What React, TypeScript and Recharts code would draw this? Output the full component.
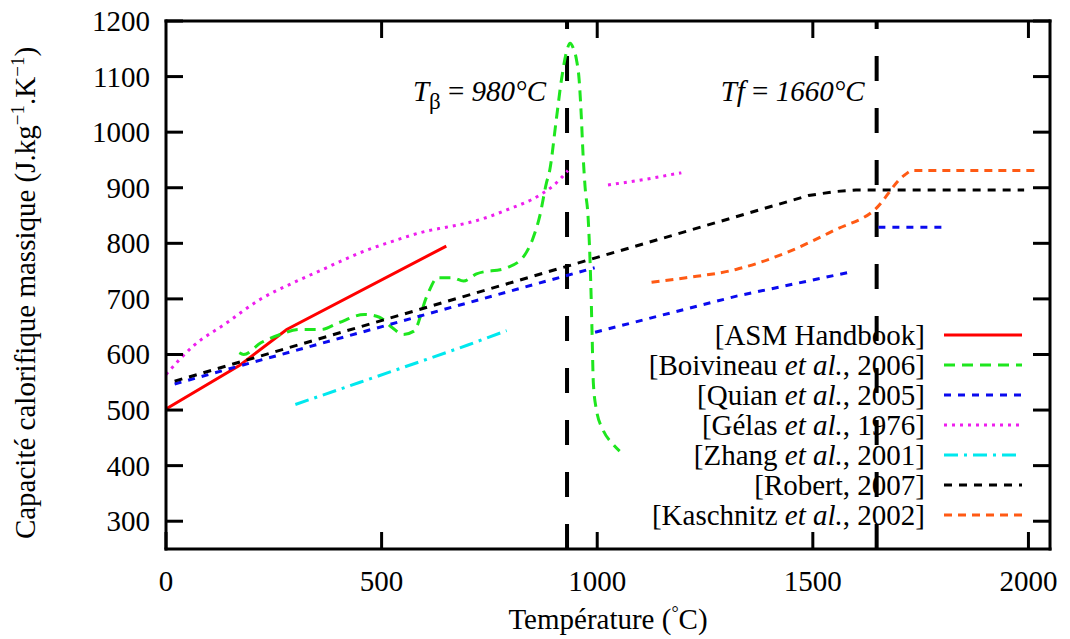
import React from 'react';
import { LineChart, Line, XAxis, YAxis, ReferenceLine, Legend } from 'recharts';

const FONT = "'Liberation Serif', 'DejaVu Serif', serif";
const TXT: React.CSSProperties = { fontFamily: FONT };

// ---- axis ticks ----
const xTicks = [0, 500, 1000, 1500, 2000];
const xTopTicks = [500, 1000, 1500, 2000];
const yTicks = [300, 400, 500, 600, 700, 800, 900, 1000, 1100, 1200];

// ---- transition temperatures ----
const tBetaLine = 930;
const tFusionLine = 1648;

// ---- series data (T in °C, Cp in J/kg/K) ----
const asmT = [0, 170, 280, 650];
const asmCp = [502, 580, 645, 795];

const boivT = [170, 180, 220, 265, 310, 360, 400, 460, 495, 525, 550, 575, 605, 630, 665, 690, 720, 790, 830, 850, 867, 882, 890, 905, 917, 930, 937, 945, 952, 958, 963, 967, 972, 979, 985, 988, 991, 998, 1013, 1035, 1052];
const boivCp = [603, 600, 621, 636, 645, 645, 657, 672, 667, 648, 636, 642, 705, 738, 738, 732, 745, 756, 777, 807, 850, 908, 932, 1022, 1094, 1148, 1160, 1150, 1130, 1095, 1030, 962, 900, 845, 729, 640, 549, 501, 465, 440, 426];

const quianT = [20, 994, 994.5, 995, 1323, 1585, 1620, 1652, 1800];
const quianCp: (number | null)[] = [547, 756, null, 640, 705, 748, null, 829, 829];

const gelasT = [0, 63, 141, 218, 295, 372, 450, 527, 604, 650, 712, 790, 867, 900, 932, 980, 1025, 1110, 1195];
const gelasCp: (number | null)[] = [564, 615, 657, 699, 729, 756, 783, 804, 822, 829, 839, 860, 887, 905, 931, null, 905, 915, 927];

const zhangT = [300, 450, 600, 700, 790];
const zhangCp = [510, 550, 590, 617, 643];

const robertT = [20, 1490, 1550, 1600, 1990];
const robertCp = [552, 886, 893, 896, 896];

const kaschT = [1126, 1206, 1322, 1438, 1554, 1643, 1713, 1732, 2025];
const kaschCp = [730, 738, 753, 783, 825, 860, 923, 931, 931];

const zip = (ts: number[], cps: (number | null)[]) => ts.map((t, i) => ({ t, cp: cps[i] }));

const series = [
  { key: 'asm', data: zip(asmT, asmCp), color: '#ff0000', dash: undefined as string | undefined, type: 'linear', label: ['[ASM Handbook]'] },
  { key: 'boiv', data: zip(boivT, boivCp), color: '#1ee61e', dash: '11 7', type: 'monotone', label: ['[Boivineau ', 'et al.', ', 2006]'] },
  { key: 'quian', data: zip(quianT, quianCp), color: '#0a0aee', dash: '7 7', type: 'linear', label: ['[Quian ', 'et al.', ', 2005]'] },
  { key: 'gelas', data: zip(gelasT, gelasCp), color: '#ee1eee', dash: '3 5', type: 'monotone', label: ['[Gélas ', 'et al.', ', 1976]'] },
  { key: 'zhang', data: zip(zhangT, zhangCp), color: '#00e8ee', dash: '14 6 3 6', type: 'linear', label: ['[Zhang ', 'et al.', ', 2001]'] },
  { key: 'robert', data: zip(robertT, robertCp), color: '#000000', dash: '8 7', type: 'linear', label: ['[Robert, 2007]'] },
  { key: 'kasch', data: zip(kaschT, kaschCp), color: '#ff5a14', dash: '8 6', type: 'monotone', label: ['[Kaschnitz ', 'et al.', ', 2002]'] },
];

const TICK_LEN = 17;
const FS = 29;

const BottomTick = (props: any) => {
  const { x, y, payload } = props;
  return (
    <g>
      <line x1={x} y1={y} x2={x} y2={y - TICK_LEN} stroke="#000" strokeWidth={3} />
      <text x={x} y={y + 42} textAnchor="middle" style={TXT} fontSize={FS} fill="#000">{payload.value}</text>
    </g>
  );
};
const TopTick = (props: any) => {
  const { x, y } = props;
  return <line x1={x} y1={y} x2={x} y2={y + TICK_LEN} stroke="#000" strokeWidth={3} />;
};
const LeftTick = (props: any) => {
  const { x, y, payload } = props;
  return (
    <g>
      <line x1={x} y1={y} x2={x + TICK_LEN} y2={y} stroke="#000" strokeWidth={3} />
      <text x={x - 16} y={y + 10} textAnchor="end" style={TXT} fontSize={FS} fill="#000">{payload.value}</text>
    </g>
  );
};
const RightTick = (props: any) => {
  const { x, y } = props;
  return <line x1={x} y1={y} x2={x - TICK_LEN} y2={y} stroke="#000" strokeWidth={3} />;
};

const vbTop = (vb: any) => Math.min(vb.y, vb.y + (vb.height || 0));

const BetaLabel = (props: any) => {
  const vb = props.viewBox;
  return (
    <text x={vb.x - 21} y={vbTop(vb) + 80} textAnchor="end" style={{ ...TXT, fontStyle: 'italic' }} fontSize={FS} fill="#000">
      T<tspan style={{ fontStyle: 'normal' }} fontSize={23} dy={8}>β</tspan>
      <tspan dy={-8} style={{ fontStyle: 'normal' }}> = </tspan>
      <tspan>980°C</tspan>
    </text>
  );
};
const FusionLabel = (props: any) => {
  const vb = props.viewBox;
  return (
    <text x={vb.x - 12} y={vbTop(vb) + 80} textAnchor="end" style={{ ...TXT, fontStyle: 'italic' }} fontSize={FS} fill="#000">
      Tf<tspan style={{ fontStyle: 'normal' }}> = </tspan>
      <tspan>1660°C</tspan>
    </text>
  );
};

const PLOT_LEFT = 158;
const PLOT_TOP = 13;
const PLOT_W = 884;
const PLOT_H = 528;

const YTitle = () => {
  const cx = PLOT_LEFT - 131;
  const cy = PLOT_TOP + PLOT_H / 2 + 8;
  return (
    <text x={cx} y={cy} transform={`rotate(-90 ${cx} ${cy})`} textAnchor="middle" style={TXT} fontSize={FS} fill="#000">
      Capacité calorifique massique (J.kg<tspan dy={-11} fontSize={19}>−1</tspan><tspan dy={11}>.K</tspan><tspan dy={-11} fontSize={19}>−1</tspan><tspan dy={11}>)</tspan>
    </text>
  );
};
const XTitle = () => (
  <text x={PLOT_LEFT + PLOT_W / 2} y={PLOT_TOP + PLOT_H + 80} textAnchor="middle" style={TXT} fontSize={FS} fill="#000">
    Température (<tspan dy={-10} fontSize={18}>°</tspan><tspan dy={10}>C)</tspan>
  </text>
);

const LegendContent = () => (
  <svg width={520} height={220} style={{ overflow: 'visible' }}>
    {series.map((s, i) => {
      const cy = 17 + 30 * i;
      return (
        <g key={s.key}>
          <text x={404} y={cy + 10} textAnchor="end" style={TXT} fontSize={FS} fill="#000">
            {s.label.map((part, j) => (
              <tspan key={j} style={{ fontStyle: j === 1 ? 'italic' : 'normal' }}>{part}</tspan>
            ))}
          </text>
          <line x1={423} y1={cy} x2={501} y2={cy} stroke={s.color} strokeWidth={3} strokeDasharray={s.dash} />
        </g>
      );
    })}
  </svg>
);

const axisLineStyle = { stroke: '#000', strokeWidth: 3, strokeLinecap: 'square' };

export default function App() {
  return (
    <div style={{ width: 1054, height: 631, position: 'relative', background: '#fff', fontFamily: FONT }}>
      <LineChart width={1054} height={631} style={{ overflow: 'visible' }} margin={{ top: PLOT_TOP - 1, right: 11, bottom: 60, left: PLOT_LEFT - 60 }}>
        <XAxis
          xAxisId={0}
          dataKey="t"
          type="number"
          domain={[0, 2050]}
          ticks={xTicks}
          interval={0}
          allowDataOverflow
          height={30}
          tickSize={0}
          tickMargin={0}
          tick={<BottomTick />}
          axisLine={axisLineStyle}
          tickLine={false}
        />
        <XAxis
          xAxisId="top"
          orientation="top"
          dataKey="t"
          type="number"
          domain={[0, 2050]}
          ticks={xTopTicks}
          interval={0}
          allowDataOverflow
          height={1}
          tickSize={0}
          tickMargin={0}
          tick={<TopTick />}
          axisLine={axisLineStyle}
          tickLine={false}
        />
        <YAxis
          yAxisId={0}
          type="number"
          domain={[250, 1200]}
          ticks={yTicks}
          interval={0}
          allowDataOverflow
          width={60}
          tickSize={0}
          tickMargin={0}
          tick={<LeftTick />}
          axisLine={axisLineStyle}
          tickLine={false}
        />
        <YAxis
          yAxisId="right"
          orientation="right"
          type="number"
          domain={[250, 1200]}
          ticks={yTicks}
          interval={0}
          allowDataOverflow
          width={1}
          tickSize={0}
          tickMargin={0}
          tick={<RightTick />}
          axisLine={axisLineStyle}
          tickLine={false}
        />
        <ReferenceLine x={tBetaLine} stroke="#000" strokeWidth={4} strokeDasharray="25 27" label={{ content: (p: any) => <BetaLabel {...p} /> }} />
        <ReferenceLine x={tFusionLine} stroke="#000" strokeWidth={4} strokeDasharray="25 27" label={{ content: (p: any) => <FusionLabel {...p} /> }} />
        {series.map((s) => (
          <Line
            key={s.key}
            data={s.data}
            dataKey="cp"
            name={s.key}
            type={s.type as any}
            stroke={s.color}
            strokeWidth={3}
            strokeDasharray={s.dash}
            dot={false}
            activeDot={false}
            connectNulls={false}
            isAnimationActive={false}
          />
        ))}
        <Legend
          layout="vertical"
          align="center"
          verticalAlign="middle"
          content={() => <LegendContent />}
          wrapperStyle={{ left: 513, top: 310, width: 520, height: 220 }}
        />
      </LineChart>
      <svg width={1054} height={631} style={{ position: 'absolute', left: 0, top: 0, pointerEvents: 'none', overflow: 'visible' }}>
        <YTitle />
        <XTitle />
      </svg>
    </div>
  );
}
